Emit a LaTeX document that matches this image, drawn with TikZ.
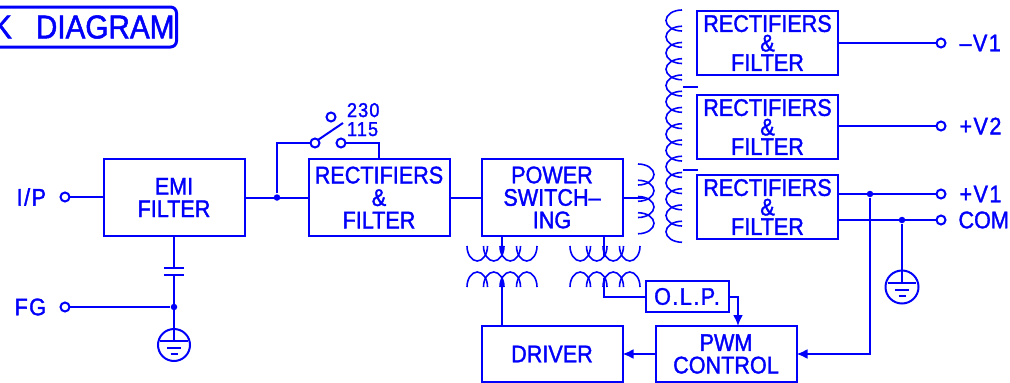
\documentclass[tikz,border=0pt]{standalone}
\usepackage{fontspec}
\setmainfont[FakeStretch=0.9,FakeBold=1.5]{Liberation Sans}
\usetikzlibrary{arrows.meta,calc,positioning}
\definecolor{inkblue}{RGB}{0,0,250}
\begin{document}
\begin{tikzpicture}[x=1pt,y=1pt,>={Latex[length=11pt,width=10pt]},line width=2pt,draw=inkblue,text=inkblue]
        \tikzset{block/.style={draw=inkblue, rectangle, align=center, inner sep=0pt, outer sep=0pt, minimum width=141pt, minimum height=77pt, font=\fontsize{24}{22.5}\selectfont},
        sblock/.style={block, minimum height=64pt, font=\fontsize{24}{19.5}\selectfont},
        term/.style={draw=inkblue, circle, fill=white, inner sep=0pt, outer sep=0pt, minimum size=9pt},
        dot/.style={circle, fill=inkblue, inner sep=0pt, minimum size=6.5pt},
        lab/.style={inner sep=0pt, font=\fontsize{24}{24}\selectfont\addfontfeature{LetterSpace=6}},
        wire/.style={draw=inkblue, line width=2pt},
        earth/.style={draw=inkblue, circle, inner sep=0pt, outer sep=0pt, minimum size=32pt},
        }
        \useasboundingbox (0,-383) rectangle (1010,0);
        \clip (0,-383) rectangle (1010,0);
        \node [block] at (174,-197.5) (emi) {EMI\\FILTER};
        \node [block, right=64pt of emi] (rect) {RECTIFIERS\\\&\\FILTER};
        \node [block, right=32pt of rect] (power) {POWER\\SWITCH--\\ING};
        \node [block, minimum height=56pt, below=90pt of power] (driver) {DRIVER};
        \node [block, minimum height=56pt, right=33pt of driver] (pwm) {PWM\\CONTROL};
        \node [block, minimum width=83pt, minimum height=31pt, above left=14pt and -83pt of pwm, xshift=-10pt, font=\fontsize{24}{24}\selectfont\addfontfeature{LetterSpace=6}] (olp) {O.L.P.};
        \node [sblock] at (767.5,-207) (rthree) {RECTIFIERS\\\&\\FILTER};
        \node [sblock, above=16pt of rthree] (rtwo) {RECTIFIERS\\\&\\FILTER};
        \node [sblock, above=20pt of rtwo] (rone) {RECTIFIERS\\\&\\FILTER};
        \node [draw=inkblue, line width=3pt, rounded corners=6pt, anchor=east, inner sep=0pt, minimum width=240pt, minimum height=40pt, align=right, font=\fontsize{33}{33}\selectfont, text width=236pt] at (178,-27) (title) {K\hspace{24pt}DIAGRAM};
%%% terminals
        \node [term] at (65,-197) (ip) {};
        \node [term] at (65,-307) (fg) {};
        \node [term] at (941,-43) (vone) {};
        \node [term] at (941,-126) (vtwo) {};
        \node [term] at (941,-194) (vthree) {};
        \node [term] at (941,-220) (com) {};
        \node [lab, left=13.5pt of ip] {I/P};
        \node [lab, left=13.5pt of fg] {FG};
        \node [lab, right=13pt of vone] {--V1};
        \node [lab, right=13pt of vtwo] {+V2};
        \node [lab, right=13pt of vthree] {+V1};
        \node [lab, right=12pt of com, font=\fontsize{24}{24}\selectfont] {COM};
%%% switch
        \node [term] at (315,-143) (swa) {};
        \node [term] at (341,-143) (swb) {};
        \node [term] at (331,-117) (swc) {};
        \node [lab, font=\fontsize{20}{20}\selectfont\addfontfeature{LetterSpace=6}, anchor=base west] at (346,-117) {230};
        \node [lab, font=\fontsize{20}{20}\selectfont\addfontfeature{LetterSpace=6}, anchor=base west] at (346,-136) {115};
        \coordinate (swarm) at (343,-123);
%%% junctions
        \node [dot] at (277,-197.5) (jsw) {};
        \node [dot] at (174,-307) (jfg) {};
        \node [dot] at (870,-194) (jvone) {};
        \node [dot] at (902,-220) (jcom) {};
%%% earth symbols
        \node [earth] at (174,-345) (gndl) {};
        \node [earth, minimum size=33pt] at (902,-287) (gndr) {};
        \foreach \g in {gndl,gndr} {
            \draw[wire] ($(\g)+(-14,4)$) -- ($(\g)+(14,4)$);
            \draw[wire] ($(\g)+(-7,-3)$) -- ($(\g)+(7,-3)$);
            \draw[wire] ($(\g)+(-3.5,-9)$) -- ($(\g)+(3.5,-9)$);
            \coordinate (\g top) at ($(\g)+(0,4)$);
        }
%%% coils
        \foreach \i in {0,...,13}
            \draw[wire, line width=1.6pt] (682,{-10-16.25*\i}) arc[start angle=90, end angle=270, x radius=16, y radius=10.5];
        \foreach \i in {0,...,3}
            \draw[wire, line width=1.6pt] (638,{-164-16.25*\i}) arc[start angle=90, end angle=-90, x radius=16, y radius=10.5];
        \foreach \xs in {467,570} \foreach \i in {0,...,3} {
            \draw[wire, line width=1.6pt] ({\xs+16.5*\i},-246) arc[start angle=180, end angle=360, x radius=10.25, y radius=15];
            \draw[wire, line width=1.6pt] ({\xs+16.5*\i},-287) arc[start angle=180, end angle=0, x radius=10.25, y radius=15];
        }
        \coordinate (tapa) at (683,-87);
        \coordinate (tapb) at (698,-87);
        \coordinate (tapc) at (683,-170);
        \coordinate (tapd) at (698,-170);
        \coordinate (coilp) at (645,-197.5);
        \coordinate (drvtop) at (502,-256);
        \coordinate (drvlow) at (502,-278);
        \coordinate (olptop) at (604,-256);
        \coordinate (olplow) at (604,-278);
%%% paths
        \path[wire] (ip) edge (ip -| emi.west)
                    (emi) edge (rect)
                    (rect) edge (power)
                    (power.east) edge (coilp)
                    (vone -| rone.east) edge (vone)
                    (vtwo -| rtwo.east) edge (vtwo)
                    (vthree -| rthree.east) edge (vthree)
                    (com -| rthree.east) edge (com)
                    (fg) edge (jfg)
                    (tapa) edge (tapb)
                    (tapc) edge (tapd)
                    (drvtop |- power.south) edge (drvtop)
                    (olptop |- power.south) edge (olptop)
                    (drvlow) edge (drvlow |- driver.north)
                    ;
        \draw[wire] (emi.south) -- (174,-268);
        \draw[wire] (164,-268) -- (184,-268);
        \draw[wire] (164,-275) -- (184,-275);
        \draw[wire] (174,-275) -- (gndltop);
        \draw[wire] (jcom) -- (gndrtop);
        \draw[wire] (jsw) |- (swa);
        \draw[wire] (swb) -| (379,-159);
        \draw[wire] (swa.45) -- (swarm);
        \draw[wire] (olplow) |- (olp.west);
        \draw[wire, ->] (olp.east) -| (738,-326);
        \draw[wire, ->] (pwm.west) -- (driver.east);
        \draw[wire, ->] (jvone) |- (pwm.east);
    \end{tikzpicture}
\end{document}
